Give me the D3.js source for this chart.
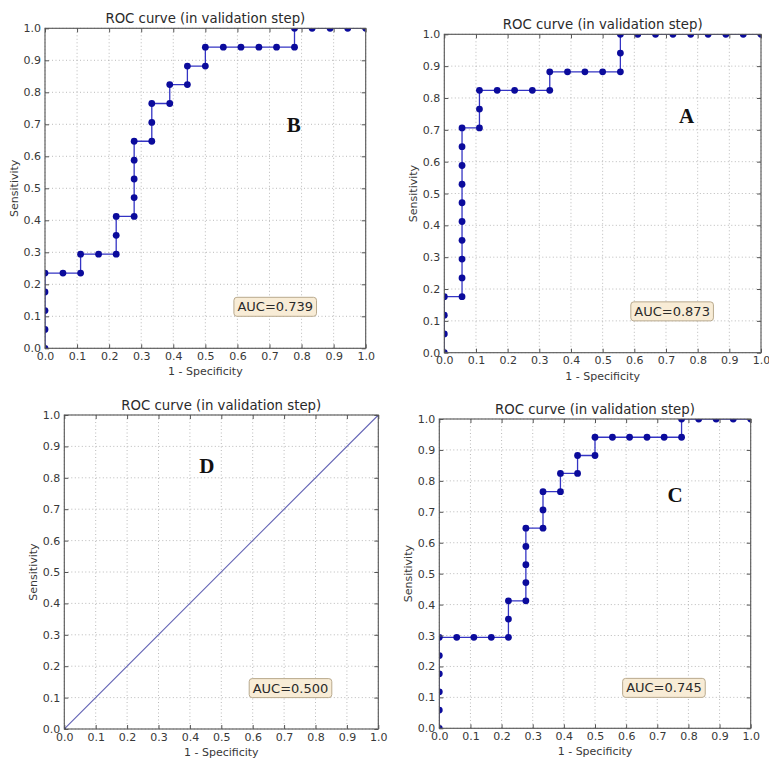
<!DOCTYPE html>
<html>
<head>
<meta charset="utf-8">
<script src="https://cdn.jsdelivr.net/npm/d3@7"></script>
<style>
    body { margin: 0; background: #fff; }
    svg { font-family: "DejaVu Sans", sans-serif; }
</style>
</head>
<body>
<svg id="chart" width="769" height="758"></svg>
<script>
// Tick values and labels shared by every panel
const tickValues = [0, 0.1, 0.2, 0.3, 0.4, 0.5, 0.6, 0.7, 0.8, 0.9, 1.0];
const tickLabels = ["0.0", "0.1", "0.2", "0.3", "0.4", "0.5", "0.6", "0.7", "0.8", "0.9", "1.0"];

// Panel B (top left)
const fprB = [0, 0, 0, 0, 0, 0.056, 0.111, 0.111, 0.167, 0.222, 0.222, 0.222,
    0.278, 0.278, 0.278, 0.278, 0.278, 0.333, 0.333, 0.333, 0.389, 0.389, 0.444, 0.444,
    0.5, 0.5, 0.556, 0.611, 0.667, 0.722, 0.778, 0.778, 0.833, 0.889, 0.944, 1.0];
const tprB = [0, 0.059, 0.118, 0.176, 0.235, 0.235, 0.235, 0.294, 0.294, 0.294, 0.353, 0.412,
    0.412, 0.471, 0.529, 0.588, 0.647, 0.647, 0.706, 0.765, 0.765, 0.824, 0.824, 0.882,
    0.882, 0.941, 0.941, 0.941, 0.941, 0.941, 0.941, 1.0, 1.0, 1.0, 1.0, 1.0];

// Panel A (top right)
const fprA = [0, 0, 0, 0, 0.056, 0.056, 0.056, 0.056, 0.056, 0.056, 0.056, 0.056, 0.056, 0.056,
    0.111, 0.111, 0.111, 0.167, 0.222, 0.278, 0.333, 0.333, 0.389, 0.444, 0.5, 0.556,
    0.556, 0.556, 0.611, 0.667, 0.722, 0.778, 0.833, 0.889, 0.944, 1.0];
const tprA = [0, 0.059, 0.118, 0.176, 0.176, 0.235, 0.294, 0.353, 0.412, 0.471, 0.529, 0.588, 0.647, 0.706,
    0.706, 0.765, 0.824, 0.824, 0.824, 0.824, 0.824, 0.882, 0.882, 0.882, 0.882, 0.882,
    0.941, 1.0, 1.0, 1.0, 1.0, 1.0, 1.0, 1.0, 1.0, 1.0];

// Panel D (bottom left)
const fprD = [0, 1.0];
const tprD = [0, 1.0];

// Panel C (bottom right)
const fprC = [0, 0, 0, 0, 0, 0, 0.056, 0.111, 0.167, 0.222, 0.222, 0.222,
    0.278, 0.278, 0.278, 0.278, 0.278, 0.333, 0.333, 0.333, 0.389, 0.389, 0.444, 0.444,
    0.5, 0.5, 0.556, 0.611, 0.667, 0.722, 0.778, 0.778, 0.833, 0.889, 0.944, 1.0];
const tprC = [0, 0.059, 0.118, 0.176, 0.235, 0.294, 0.294, 0.294, 0.294, 0.294, 0.353, 0.412,
    0.412, 0.471, 0.529, 0.588, 0.647, 0.647, 0.706, 0.765, 0.765, 0.824, 0.824, 0.882,
    0.882, 0.941, 0.941, 0.941, 0.941, 0.941, 0.941, 1.0, 1.0, 1.0, 1.0, 1.0];

const panelLetters = ["B", "A", "D", "C"];
const aucLabels = ["AUC=0.739", "AUC=0.873", "AUC=0.500", "AUC=0.745"];
const titleText = "ROC curve (in validation step)";
const xLabelText = "1 - Specificity";
const yLabelText = "Sensitivity";

// Plot boxes and letter spots (layout only)
const panels = [
    { id: "B", left: 45, right: 365.7, top: 28.3, bottom: 348.3, letterX: 0.776, letterY: 0.698, fpr: fprB, tpr: tprB, markers: true },
    { id: "A", left: 444.3, right: 761, top: 34.3, bottom: 352.7, letterX: 0.765, letterY: 0.743, fpr: fprA, tpr: tprA, markers: true },
    { id: "D", left: 64.3, right: 378.3, top: 415, bottom: 729, letterX: 0.454, letterY: 0.84, fpr: fprD, tpr: tprD, markers: false },
    { id: "C", left: 439.3, right: 750.7, top: 419, bottom: 728.3, letterX: 0.757, letterY: 0.754, fpr: fprC, tpr: tprC, markers: true }
];

const svg = d3.select("#chart");

function drawRoc(p, idx) {
    const x = d3.scaleLinear().domain([0, 1]).range([p.left, p.right]);
    const y = d3.scaleLinear().domain([0, 1]).range([p.bottom, p.top]);
    const g = svg.append("g");

    // Clip region for the curve
    const clipId = "clip" + p.id;
    svg.append("clipPath").attr("id", clipId)
        .append("rect")
        .attr("x", p.left).attr("y", p.top)
        .attr("width", p.right - p.left).attr("height", p.bottom - p.top);

    // Dotted grid
    g.selectAll(".gx").data(tickValues).enter().append("line")
        .attr("x1", d => x(d)).attr("x2", d => x(d))
        .attr("y1", p.top).attr("y2", p.bottom)
        .attr("stroke", "#a8a8a8").attr("stroke-width", 0.8)
        .attr("stroke-dasharray", "1,2.5");
    g.selectAll(".gy").data(tickValues).enter().append("line")
        .attr("y1", d => y(d)).attr("y2", d => y(d))
        .attr("x1", p.left).attr("x2", p.right)
        .attr("stroke", "#a8a8a8").attr("stroke-width", 0.8)
        .attr("stroke-dasharray", "1,2.5");

    // Curve
    const pts = p.fpr.map((f, i) => [f, p.tpr[i]]);
    const curve = g.append("g").attr("clip-path", `url(#${clipId})`);
    curve.append("path")
        .datum(pts)
        .attr("fill", "none")
        .attr("stroke", p.markers ? "#3434c4" : "#6262b4")
        .attr("stroke-width", p.markers ? 1.3 : 1.1)
        .attr("d", d3.line().x(d => x(d[0])).y(d => y(d[1])));
    curve.selectAll("circle").data(pts).enter().append("circle")
        .attr("cx", d => x(d[0]))
        .attr("cy", d => y(d[1]))
        .attr("r", p.markers ? 3.4 : 1.6)
        .attr("fill", "#0b0b9c");

    // Axes with inward ticks
    const fmt = (d, i) => tickLabels[i];
    const axX = g.append("g").attr("transform", `translate(0,${p.bottom})`)
        .call(d3.axisBottom(x).tickValues(tickValues).tickFormat(fmt).tickSize(-4).tickSizeOuter(0).tickPadding(4));
    const axY = g.append("g").attr("transform", `translate(${p.left},0)`)
        .call(d3.axisLeft(y).tickValues(tickValues).tickFormat(fmt).tickSize(-4).tickSizeOuter(0).tickPadding(4));
    const axT = g.append("g").attr("transform", `translate(0,${p.top})`)
        .call(d3.axisTop(x).tickValues(tickValues).tickFormat("").tickSize(-4).tickSizeOuter(0));
    const axR = g.append("g").attr("transform", `translate(${p.right},0)`)
        .call(d3.axisRight(y).tickValues(tickValues).tickFormat("").tickSize(-4).tickSizeOuter(0));
    [axX, axY, axT, axR].forEach(a => {
        a.attr("font-family", null).attr("font-size", null);
        a.select(".domain").remove();
        a.selectAll(".tick line").attr("stroke", "#555");
        a.selectAll("text").attr("fill", "#383838").style("font-size", "11px")
            .style("font-family", "'DejaVu Sans', sans-serif");
    });

    // Frame
    g.append("rect")
        .attr("x", p.left).attr("y", p.top)
        .attr("width", p.right - p.left).attr("height", p.bottom - p.top)
        .attr("fill", "none").attr("stroke", "#555").attr("stroke-width", 1.1);

    // Title
    g.append("text")
        .attr("x", (p.left + p.right) / 2)
        .attr("y", p.top - 5)
        .attr("text-anchor", "middle")
        .style("font-size", "13.3px")
        .attr("fill", "#2a2a2a")
        .text(titleText);

    // Axis labels
    g.append("text")
        .attr("x", (p.left + p.right) / 2)
        .attr("y", p.bottom + 27)
        .attr("text-anchor", "middle")
        .style("font-size", "11px")
        .attr("fill", "#383838")
        .text(xLabelText);
    g.append("text")
        .attr("transform", `translate(${p.left - 31},${(p.top + p.bottom) / 2}) rotate(-90)`)
        .attr("dy", "0.35em")
        .attr("text-anchor", "middle")
        .style("font-size", "11px")
        .attr("fill", "#383838")
        .text(yLabelText);

    // Panel letter
    g.append("text")
        .attr("x", x(p.letterX))
        .attr("y", y(p.letterY))
        .attr("dy", "0.35em")
        .attr("text-anchor", "middle")
        .style("font-family", "'Liberation Serif', 'Times New Roman', serif")
        .style("font-weight", "bold")
        .style("font-size", "21px")
        .attr("fill", "#111")
        .text(panelLetters[idx]);

    // AUC box
    const box = g.append("rect");
    const t = g.append("text")
        .attr("x", x(0.6))
        .attr("y", y(0.1) - 5)
        .style("font-size", "13px")
        .attr("fill", "#2a2a2a")
        .text(aucLabels[idx]);
    const w = t.node().getComputedTextLength();
    box.attr("x", x(0.6) - 3.5).attr("y", y(0.1) - 19)
        .attr("width", w + 7).attr("height", 19)
        .attr("rx", 3)
        .attr("fill", "#f8ecd6")
        .attr("stroke", "#b9aa8e")
        .attr("stroke-width", 1);
}

panels.forEach(drawRoc);
</script>
</body>
</html>
